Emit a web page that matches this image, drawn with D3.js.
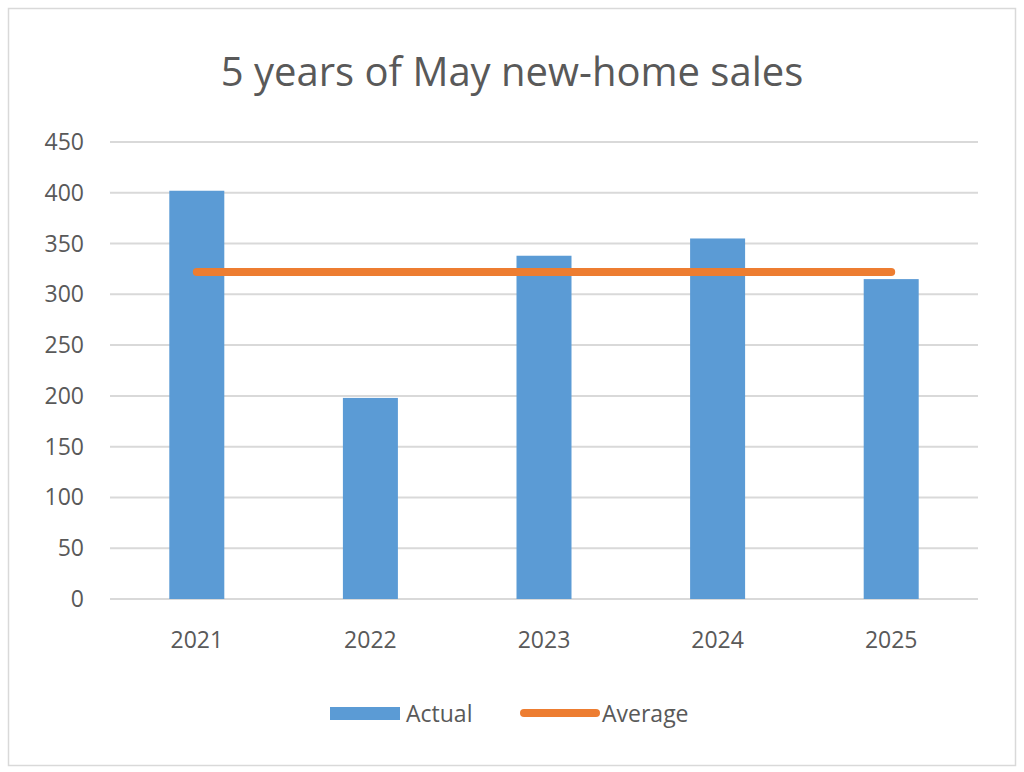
<!DOCTYPE html>
<html><head><meta charset="utf-8">
<script src="https://cdn.jsdelivr.net/npm/d3@7"></script>
<style>body{margin:0;background:#fff}text{font-family:"Open Sans","Noto Sans",sans-serif;fill:#595959}</style>
</head><body><svg id="c" width="1024" height="772"></svg>
<script>
const years = ["2021","2022","2023","2024","2025"];
const actual = [402, 198, 338, 355, 315];
const average = [322, 322, 322, 322, 322];
const yTicks = [0,50,100,150,200,250,300,350,400,450];

const svg = d3.select("#c");
svg.append("rect").attr("x",8.5).attr("y",8.5).attr("width",1007).attr("height",757)
  .attr("fill","#fff").attr("stroke","#d9d9d9").attr("stroke-width",1.5);
svg.append("text").attr("x",512).attr("y",86).attr("text-anchor","middle")
  .attr("font-size",40).text("5 years of May new-home sales");

const x = d3.scaleBand().domain(years).range([110,978]);
const y = d3.scaleLinear().domain([0,450]).range([599,142]);

svg.append("g").selectAll("line").data(yTicks).join("line")
  .attr("x1",110).attr("x2",978).attr("y1",d=>y(d)).attr("y2",d=>y(d))
  .attr("stroke","#d9d9d9").attr("stroke-width",2);
svg.append("g").selectAll("text").data(yTicks).join("text")
  .attr("x",84).attr("y",d=>y(d)+8).attr("text-anchor","end").attr("font-size",23).text(d=>d);

const bw = 55;
svg.append("g").selectAll("rect").data(actual).join("rect")
  .attr("x",(d,i)=>x(years[i])+x.bandwidth()/2-bw/2).attr("width",bw)
  .attr("y",d=>y(d)).attr("height",d=>y(0)-y(d)).attr("fill","#5b9bd5");

svg.append("g").selectAll("text").data(years).join("text")
  .attr("x",d=>x(d)+x.bandwidth()/2).attr("y",648).attr("text-anchor","middle")
  .attr("font-size",23).text(d=>d);

const line = d3.line().x((d,i)=>x(years[i])+x.bandwidth()/2).y(d=>y(d));
svg.append("path").attr("d",line(average)).attr("fill","none")
  .attr("stroke","#ed7d31").attr("stroke-width",8).attr("stroke-linecap","round");

// legend
svg.append("rect").attr("x",330).attr("y",707).attr("width",70).attr("height",13).attr("fill","#5b9bd5");
svg.append("text").attr("x",406).attr("y",722).attr("font-size",23).text("Actual");
svg.append("line").attr("x1",524).attr("x2",596).attr("y1",713).attr("y2",713)
  .attr("stroke","#ed7d31").attr("stroke-width",8).attr("stroke-linecap","round");
svg.append("text").attr("x",602).attr("y",722).attr("font-size",23).text("Average");
</script></body></html>
